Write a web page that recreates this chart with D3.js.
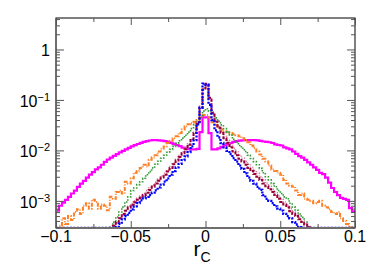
<!DOCTYPE html>
<html>
<head>
<meta charset="utf-8">
<script src="https://cdn.jsdelivr.net/npm/d3@7"></script>
<style>
	body { margin: 0; background: #fff; }
	#chart { width: 374px; height: 268px; }
	text { font-family: "Liberation Sans", Arial, sans-serif; fill: #000; }
</style>
</head>
<body>
<div id="chart"></div>
<script>
// Histogram range: 100 bins between -0.1 and 0.1
var xMin = -0.1, xMax = 0.1, nBins = 100;

// bin contents, left to right (0 = empty bin)
var magenta = [6.4e-4,8e-4,9.2e-4,1.05e-3,1.2e-3,1.4e-3,1.6e-3,1.9e-3,2.2e-3,2.5e-3,
	2.9e-3,3.3e-3,3.7e-3,4.2e-3,4.6e-3,5.2e-3,5.9e-3,6.6e-3,7.2e-3,7.8e-3,
	8.4e-3,9.1e-3,9.8e-3,1.05e-2,1.12e-2,1.2e-2,1.27e-2,1.34e-2,1.41e-2,1.48e-2,
	1.53e-2,1.57e-2,1.6e-2,1.6e-2,1.58e-2,1.56e-2,1.52e-2,1.47e-2,1.41e-2,1.35e-2,
	1.28e-2,1.21e-2,1.14e-2,1.09e-2,1.06e-2,1.05e-2,1.05e-2,1.07e-2,2.3e-2,4.5e-2,
	4.5e-2,2.2e-2,1.05e-2,1.05e-2,1.1e-2,1.17e-2,1.25e-2,1.33e-2,1.4e-2,1.47e-2,
	1.52e-2,1.56e-2,1.58e-2,1.6e-2,1.6e-2,1.6e-2,1.6e-2,1.58e-2,1.55e-2,1.5e-2,
	1.48e-2,1.45e-2,1.4e-2,1.32e-2,1.28e-2,1.25e-2,1.15e-2,1.1e-2,1.05e-2,9.5e-3,
	8.5e-3,7.7e-3,7.2e-3,6.5e-3,5.8e-3,5.2e-3,4.6e-3,4.1e-3,3.6e-3,3.4e-3,
	2.9e-3,2.3e-3,1.8e-3,1.5e-3,1.3e-3,1.15e-3,1.1e-3,1.05e-3,7.2e-4,6.1e-4];

var orange = [2.8e-4,3.2e-4,4.5e-4,3.5e-4,5e-4,4.2e-4,6e-4,6.8e-4,5.5e-4,8e-4,
	9e-4,7e-4,1.05e-3,9.5e-4,7e-4,8.5e-4,8e-4,6.5e-4,1.2e-3,1.1e-3,
	1.5e-3,1.6e-3,1.4e-3,2.4e-3,2.2e-3,2.8e-3,3.6e-3,3.9e-3,4.5e-3,5.2e-3,
	4.8e-3,6.5e-3,7.2e-3,8e-3,9.5e-3,1.08e-2,1.2e-2,1.4e-2,1.55e-2,1.75e-2,
	1.9e-2,2.2e-2,2.6e-2,3e-2,3.3e-2,3.5e-2,3.7e-2,4e-2,4.5e-2,5e-2,
	5e-2,4.5e-2,3.6e-2,3.2e-2,2.9e-2,2.6e-2,2.4e-2,2.3e-2,2.2e-2,2.1e-2,
	2e-2,1.9e-2,1.75e-2,1.6e-2,1.45e-2,1.25e-2,1.1e-2,9.5e-3,8.3e-3,6.8e-3,
	6e-3,5e-3,4.2e-3,3.9e-3,3.6e-3,3.3e-3,2.6e-3,2.2e-3,2e-3,1.9e-3,
	1.6e-3,1.3e-3,1.4e-3,1.1e-3,1.05e-3,1e-3,9e-4,9.5e-4,1e-3,8e-4,
	7.5e-4,6.8e-4,6e-4,5.5e-4,6e-4,4.5e-4,4e-4,3.5e-4,3e-4,2.8e-4];

var green = [0,0,0,0,0,0,0,0,0,0,
	0,0,0,0,0,0,0,2.5e-4,3e-4,3.8e-4,
	4.8e-4,6e-4,7.5e-4,9.5e-4,1.2e-3,1.6e-3,1.8e-3,2.1e-3,2.4e-3,2.8e-3,
	3.3e-3,3.8e-3,4.5e-3,5.3e-3,6.1e-3,7e-3,8e-3,9.2e-3,1.05e-2,1.2e-2,
	1.38e-2,1.55e-2,1.75e-2,2e-2,2.3e-2,2.7e-2,3.2e-2,3.7e-2,4.5e-2,6e-2,
	6.7e-2,6e-2,5.2e-2,4.4e-2,3.8e-2,3.2e-2,2.7e-2,2.3e-2,2e-2,1.65e-2,
	1.45e-2,1.25e-2,1.1e-2,9.5e-3,8e-3,6.9e-3,6e-3,5.2e-3,4.4e-3,3.6e-3,
	3e-3,2.6e-3,2.2e-3,1.9e-3,1.6e-3,1.4e-3,1.2e-3,1.1e-3,9e-4,7.5e-4,
	6.5e-4,5.5e-4,4.7e-4,3.8e-4,3e-4,0,0,0,0,0,
	0,0,0,0,0,0,0,0,0,0];

var pink = [0,0,0,0,0,0,0,0,0,0,
	0,0,0,0,0,0,0,0,0,3e-4,
	3.6e-4,4.6e-4,5.4e-4,6.6e-4,7.8e-4,8.8e-4,1e-3,1.12e-3,1.25e-3,1.4e-3,
	1.6e-3,1.8e-3,2.05e-3,2.35e-3,2.7e-3,3.1e-3,3.5e-3,4.1e-3,4.8e-3,5.6e-3,
	6.7e-3,7.9e-3,9.3e-3,1.1e-2,1.35e-2,1.7e-2,2.3e-2,3.8e-2,7.5e-2,0.17,
	0.19,0.11,5.8e-2,4e-2,3e-2,2.4e-2,1.9e-2,1.58e-2,1.3e-2,1.1e-2,
	9.3e-3,8e-3,7e-3,6.1e-3,5.3e-3,4.6e-3,4e-3,3.5e-3,3e-3,2.6e-3,
	2.25e-3,1.95e-3,1.7e-3,1.45e-3,1.25e-3,1.08e-3,9.5e-4,8.3e-4,7e-4,6e-4,
	5.3e-4,4.6e-4,4e-4,3.5e-4,3.1e-4,2.9e-4,0,0,0,0,
	0,0,0,0,0,0,0,0,0,0];

var maroon = [0,0,0,0,0,0,0,0,0,0,
	0,0,0,0,0,0,0,0,0,3.2e-4,
	3.8e-4,4.5e-4,5.5e-4,6.4e-4,7.4e-4,8.4e-4,9.4e-4,1.05e-3,1.15e-3,1.3e-3,
	1.45e-3,1.65e-3,1.9e-3,2.2e-3,2.5e-3,2.9e-3,3.3e-3,3.8e-3,4.5e-3,5.3e-3,
	6.3e-3,7.4e-3,8.8e-3,1.05e-2,1.3e-2,1.6e-2,2.2e-2,3.6e-2,7e-2,0.16,
	0.21,0.11,5.5e-2,3.7e-2,2.8e-2,2.2e-2,1.75e-2,1.42e-2,1.15e-2,9.5e-3,
	8e-3,6.8e-3,6e-3,5.2e-3,4.5e-3,3.9e-3,3.4e-3,3e-3,2.6e-3,2.2e-3,
	1.95e-3,1.7e-3,1.5e-3,1.3e-3,1.1e-3,9.5e-4,8.5e-4,7.5e-4,6.2e-4,5.5e-4,
	5e-4,4.3e-4,3.8e-4,3.4e-4,3e-4,0,0,0,0,0,
	0,0,0,0,0,0,0,0,0,0];

var blue = [0,0,0,0,0,0,0,0,0,0,
	0,0,0,0,0,0,0,0,0,0,
	3e-4,3.5e-4,4.3e-4,5e-4,5.8e-4,6.8e-4,7.8e-4,9e-4,1.02e-3,1.12e-3,
	1.2e-3,1.3e-3,1.45e-3,1.62e-3,1.85e-3,2.1e-3,2.4e-3,2.8e-3,3.3e-3,3.9e-3,
	4.6e-3,5.4e-3,6.4e-3,7.6e-3,9.2e-3,1.2e-2,1.6e-2,3.3e-2,7e-2,0.21,
	0.2,8e-2,4e-2,2.5e-2,1.8e-2,1.4e-2,1.15e-2,9.8e-3,8.4e-3,7e-3,
	6e-3,5e-3,4.3e-3,3.5e-3,2.9e-3,2.5e-3,2.2e-3,1.9e-3,1.65e-3,1.3e-3,
	1.1e-3,1e-3,9e-4,7.8e-4,7e-4,6.4e-4,5.5e-4,5e-4,4.5e-4,3.8e-4,
	3.4e-4,3e-4,0,0,0,0,0,0,0,0,
	0,0,0,0,0,0,0,0,0,0];

// axis ticks and labels
var xMajor = [-0.1, -0.05, 0, 0.05, 0.1];
var xMinor = [-0.075, -0.025, 0.025, 0.075];
var xTickLabels = ["\u22120.1", "\u22120.05", "0", "0.05", "0.1"];
var yMajor = [1e-3, 1e-2, 1e-1, 1];
var yTickBase = ["10", "10", "10", "1"];
var yTickExp = ["\u22123", "\u22122", "\u22121", ""];

var series = [
	{data: magenta, color: "#ff00ff", width: 2.2, dash: null},
	{data: orange, color: "#ff7f24", width: 2, dash: "4,1.5,1,1.5"},
	{data: green, color: "#339933", width: 1.6, dash: "1.5,1.5"},
	{data: pink, color: "#d07898", width: 1.6, dash: "1,1.5"},
	{data: maroon, color: "#99003a", width: 2, dash: "3,1.5"},
	{data: blue, color: "#0000ff", width: 2.3, dash: "2,1.5"}
];

var margin = {top: 18, right: 19, bottom: 40, left: 56},
	width = 374 - margin.left - margin.right,
	height = 268 - margin.top - margin.bottom;

var svg = d3.select("#chart")
	.append("svg")
		.attr("width", width + margin.left + margin.right)
		.attr("height", height + margin.top + margin.bottom)
	.append("g")
		.attr("transform", "translate(" + margin.left + "," + margin.top + ")");

var xScale = d3.scaleLinear().domain([xMin, xMax]).range([0, width]);
var yScale = d3.scaleLog().domain([2.9e-4, 4.2]).range([height, 0]).clamp(true);

svg.append("clipPath").attr("id", "plotclip")
	.append("rect").attr("x", 0).attr("y", -1).attr("width", width).attr("height", height + 2);

// histograms drawn as steps
var binW = (xMax - xMin) / nBins;
var line = d3.line()
	.x(d => xScale(d[0]))
	.y(d => yScale(Math.max(d[1], 1e-7)))
	.curve(d3.curveStepAfter);

series.forEach(s => {
	var pts = s.data.map((v, i) => [xMin + i * binW, v]);
	pts.push([xMax, s.data[s.data.length - 1]]);
	svg.append("path")
		.datum(pts)
		.attr("clip-path", "url(#plotclip)")
		.attr("fill", "none")
		.attr("stroke", s.color)
		.attr("stroke-width", s.width)
		.attr("stroke-dasharray", s.dash)
		.attr("d", line);
});

// frame
svg.append("rect")
	.attr("width", width).attr("height", height)
	.attr("fill", "none").attr("stroke", "#000").attr("stroke-width", 1);
svg.append("line").attr("x1", 0).attr("x2", 0).attr("y1", 0).attr("y2", height)
	.attr("stroke", "#6e6e6e").attr("stroke-width", 2);
svg.append("line").attr("x1", 0).attr("x2", width).attr("y1", height).attr("y2", height)
	.attr("stroke", "#6e6e6e").attr("stroke-width", 2);

// ticks (all pointing into the frame)
var yMinor = yScale.ticks().filter(v => yMajor.indexOf(v) < 0);
function tickAxis(axis, values, size, tx, ty) {
	var g = svg.append("g")
		.attr("transform", "translate(" + tx + "," + ty + ")")
		.call(axis.tickValues(values).tickSize(size).tickFormat(""));
	g.select(".domain").remove();
	g.selectAll(".tick line").attr("stroke", "#555");
}
tickAxis(d3.axisTop(xScale), xMajor, 7, 0, height);
tickAxis(d3.axisTop(xScale), xMinor, 4, 0, height);
tickAxis(d3.axisBottom(xScale), xMajor, 7, 0, 0);
tickAxis(d3.axisBottom(xScale), xMinor, 4, 0, 0);
tickAxis(d3.axisRight(yScale), yMajor, 8, 0, 0);
tickAxis(d3.axisRight(yScale), yMinor, 4, 0, 0);
tickAxis(d3.axisLeft(yScale), yMajor, 8, width, 0);
tickAxis(d3.axisLeft(yScale), yMinor, 4, width, 0);

// x labels
svg.selectAll(".xlab")
	.data(xMajor)
	.enter().append("text")
		.attr("class", "xlab")
		.attr("x", d => xScale(d))
		.attr("y", height + 13.5)
		.attr("text-anchor", "middle")
		.style("font-size", "16px")
		.text((d, i) => xTickLabels[i]);

// y labels with exponents
yMajor.forEach((v, i) => {
	var t = svg.append("text")
		.attr("x", -6)
		.attr("y", yScale(v) + 7)
		.attr("text-anchor", "end")
		.style("font-size", "16px");
	t.append("tspan").text(yTickBase[i]);
	if (yTickExp[i]) {
		t.append("tspan").attr("dy", -6).style("font-size", "11px").text(yTickExp[i]);
	}
});

// axis title r_C
var title = svg.append("text")
	.attr("x", xScale(0) - 12)
	.attr("y", height + 28)
	.style("font-size", "21px");
title.append("tspan").text("r");
title.append("tspan").attr("dy", 6).style("font-size", "14px").text("C");
</script>
</body>
</html>
